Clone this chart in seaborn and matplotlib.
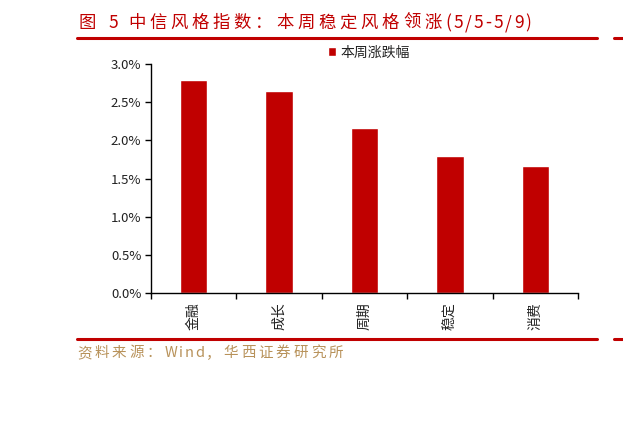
import matplotlib
matplotlib.use("Agg")
import matplotlib.pyplot as plt
import seaborn as sns
import pandas as pd
import numpy as np
from matplotlib.ticker import FuncFormatter, FixedLocator

categories = ["金融", "成长", "周期", "稳定", "消费"]
values = [2.79, 2.64, 2.16, 1.79, 1.66]
series_name = "本周涨跌幅"
yticks = [0.0, 0.5, 1.0, 1.5, 2.0, 2.5, 3.0]
title = "图 5 中信风格指数：本周稳定风格领涨(5/5-5/9)"
source = "资料来源：Wind，华西证券研究所"

sns.set_theme(style="white")
plt.rcParams['font.family'] = ['Noto Sans CJK SC', 'DejaVu Sans']
plt.rcParams['axes.unicode_minus'] = False

RED = "#C00000"
W, H = 623, 430
df = pd.DataFrame({"cat": categories, "val": values, "s": series_name})

fig = plt.figure(figsize=(6.23, 4.30), dpi=100)
renderer = fig.canvas.get_renderer()
ax = fig.add_axes([151/W, 1-293/H, (578-151)/W, (293-64)/H])
sns.barplot(data=df, x="cat", y="val", hue="s", palette=[RED], width=0.32,
            ax=ax, saturation=1, legend=True)
ax.set_ylim(0, 3.0)
ax.set_xlim(-0.5, 4.5)
ax.set_yticks(yticks)
ax.yaxis.set_major_formatter(FuncFormatter(lambda v, p: f"{v:.1f}%"))
ax.set_xlabel("")
ax.set_ylabel("")
for s in ["top", "right"]:
    ax.spines[s].set_visible(False)
for s in ["left", "bottom"]:
    ax.spines[s].set_color("black")
    ax.spines[s].set_linewidth(1.0)
ax.tick_params(axis="y", which="major", direction="out", length=4, width=1,
               color="black", labelsize=9.5, pad=3, left=True)
ax.tick_params(axis="x", which="major", length=0, labelsize=10, pad=7,
               labelrotation=90)
ax.xaxis.set_minor_locator(FixedLocator(np.arange(-0.5, 5.0, 1.0)))
ax.tick_params(axis="x", which="minor", direction="out", length=4, width=1,
               color="black", bottom=True)
for lbl in ax.get_yticklabels() + ax.get_xticklabels():
    lbl.set_color("#222222")

leg = ax.legend(loc="center left", frameon=False,
                fontsize=10, handlelength=0.55, handleheight=0.55, handletextpad=0.35,
                borderaxespad=0, borderpad=0)
leg.set_bbox_to_anchor(((328-151)/427, (293-52.5)/229))
for t in leg.get_texts():
    t.set_color("#222222")


def spaced_text(x0, y, s, size, color, cjk_gap, ascii_gap, space_w):
    x = x0
    for ch in s:
        if ch == " ":
            x += space_w
            continue
        t = fig.text(x/W, 1-y/H, ch, color=color, fontsize=size, va="center", ha="left")
        w = t.get_window_extent(renderer).width
        x += w + (cjk_gap if ord(ch) > 0x2E80 else ascii_gap)


spaced_text(79, 23, title, 12.5, RED, 3.8, 2.0, 8)
spaced_text(77, 353, source, 10.5, "#B8925A", 2.8, 1.8, 4)

for y in (38, 339):
    fig.add_artist(plt.Line2D([77/W, 597/W], [1-y/H, 1-y/H], color=RED, linewidth=2.2))
    fig.add_artist(plt.Line2D([614/W, 1.0], [1-y/H, 1-y/H], color=RED, linewidth=2.2))

fig.savefig("out.png", dpi=100)
